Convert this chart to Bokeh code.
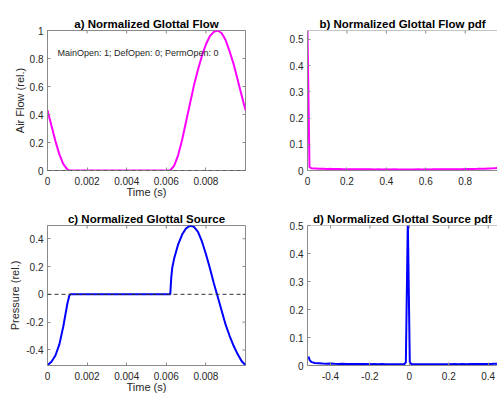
import math
from bokeh.plotting import figure
from bokeh.models import Range1d, FixedTicker, CustomJSTickFormatter, Label, Span
from bokeh.layouts import column, row
from bokeh.embed import file_html
from bokeh.resources import INLINE

# ---------------- data ----------------
# a) normalized glottal flow, time in ms
flow_t_ms = [0.0, 0.2, 0.4, 0.6, 0.8, 1.0, 1.1, 6.2, 6.4, 6.6, 6.8, 7.0, 7.2, 7.4, 7.6,
             7.8, 8.0, 8.2, 8.4, 8.6, 8.8, 9.0, 9.2, 9.4, 9.6, 9.8, 10.0]
flow_v = [0.43, 0.32, 0.21, 0.115, 0.045, 0.008, 0.0, 0.0, 0.035, 0.11, 0.22, 0.35, 0.48,
          0.61, 0.72, 0.82, 0.90, 0.96, 0.99, 1.0, 0.98, 0.93, 0.85, 0.76, 0.65, 0.54, 0.43]

# c) normalized glottal source, time in ms
src_t_ms = [0.0, 0.2, 0.4, 0.6, 0.8, 1.0, 1.1, 1.15, 6.2, 6.25, 6.3, 6.4, 6.6, 6.8, 7.0,
            7.2, 7.4, 7.6, 7.8, 8.0, 8.2, 8.4, 8.6, 8.8, 9.0, 9.2, 9.4, 9.6, 9.8, 10.0]
src_v = [-0.51, -0.485, -0.44, -0.36, -0.23, -0.07, -0.01, 0.0, 0.0, 0.12, 0.19, 0.26,
         0.36, 0.43, 0.475, 0.493, 0.485, 0.45, 0.38, 0.29, 0.19, 0.08, -0.02, -0.12,
         -0.22, -0.30, -0.37, -0.43, -0.48, -0.51]

# b) pdf of normalized glottal flow
pdf_flow_x = [0.0, 0.01, 0.02, 0.04, 0.06, 0.08, 0.10, 0.12, 0.14, 0.16, 0.18, 0.20,
              0.22, 0.24, 0.26, 0.28, 0.30, 0.32, 0.34, 0.36, 0.38, 0.40, 0.42, 0.44,
              0.46, 0.48, 0.50, 0.52, 0.54, 0.56, 0.58, 0.60, 0.62, 0.64, 0.66, 0.68,
              0.70, 0.72, 0.74, 0.76, 0.78, 0.80, 0.82, 0.84, 0.86, 0.88, 0.90, 0.92,
              0.94, 0.96, 0.98, 0.99, 1.0]
pdf_flow_v = [0.532, 0.012, 0.009, 0.008, 0.007, 0.0065, 0.006, 0.0062, 0.0055, 0.0058,
              0.005, 0.0052, 0.0048, 0.005, 0.0045, 0.0048, 0.0044, 0.0046, 0.0042,
              0.0045, 0.0041, 0.0044, 0.004, 0.0043, 0.004, 0.0042, 0.0038, 0.0042,
              0.004, 0.0043, 0.0041, 0.0044, 0.0042, 0.0045, 0.0043, 0.0047, 0.0045,
              0.0049, 0.0048, 0.0052, 0.005, 0.0055, 0.0054, 0.006, 0.0062, 0.0066,
              0.007, 0.0078, 0.0085, 0.0098, 0.013, 0.018, 0.06]

# d) pdf of normalized glottal source
pdf_src_x = [-0.512, -0.505, -0.495, -0.48, -0.46, -0.44, -0.42, -0.40, -0.38, -0.36,
             -0.34, -0.32, -0.30, -0.28, -0.26, -0.24, -0.22, -0.20, -0.18, -0.16,
             -0.14, -0.12, -0.10, -0.08, -0.06, -0.04, -0.025, -0.018, -0.008, 0.002,
             0.01, 0.03, 0.05, 0.07, 0.09, 0.11, 0.13, 0.15, 0.17, 0.19, 0.21, 0.23,
             0.25, 0.27, 0.29, 0.31, 0.33, 0.35, 0.37, 0.39, 0.41, 0.43, 0.45, 0.47,
             0.48, 0.49]
pdf_src_v = [0.032, 0.018, 0.012, 0.009, 0.008, 0.007, 0.0065, 0.0068, 0.006, 0.0058,
             0.0062, 0.0055, 0.0058, 0.0052, 0.0055, 0.005, 0.0053, 0.0049, 0.0052,
             0.0048, 0.005, 0.0047, 0.0049, 0.0046, 0.0048, 0.0045, 0.005, 0.012, 0.52,
             0.012, 0.005, 0.0045, 0.0042, 0.0046, 0.0043, 0.0047, 0.0044, 0.0048,
             0.0045, 0.0049, 0.0046, 0.005, 0.0047, 0.0051, 0.0049, 0.0053, 0.005,
             0.0055, 0.0053, 0.0057, 0.0056, 0.006, 0.006, 0.0075, 0.01, 0.03]

time_ticks = [0, 0.002, 0.004, 0.006, 0.008]
flow_yticks = [0, 0.2, 0.4, 0.6, 0.8, 1]
pdf_flow_xticks = [0, 0.2, 0.4, 0.6, 0.8, 1]
pdf_yticks = [0, 0.1, 0.2, 0.3, 0.4, 0.5]
src_ticks = [-0.4, -0.2, 0, 0.2, 0.4]

titles = ["a) Normalized Glottal Flow", "b) Normalized Glottal Flow pdf",
          "c) Normalized Glottal Source", "d) Normalized Glottal Source pdf"]
annot = "MainOpen: 1; DefOpen: 0; PermOpen: 0"

# ---------------- styling ----------------
FONT = "Liberation Sans"
TXT = "#262626"
AXC = "#8a8a8a"
MAG = "#ff00ff"
BLU = "#0000ff"

fmt = CustomJSTickFormatter(code="return String(tick);")


def make(title, w, h, bl, br, bt, bb, xr, yr, xticks, yticks, xlabel=None, ylabel=None,
         ylab_standoff=2, box=True):
    p = figure(width=w, height=h, min_border_left=bl, min_border_right=br,
               min_border_top=bt, min_border_bottom=bb, x_range=Range1d(*xr),
               y_range=Range1d(*yr), output_backend="svg", toolbar_location=None,
               tools="", background_fill_color="white", border_fill_color="white")
    p.title.text = title
    p.title.align = "center"
    p.title.text_font = FONT
    p.title.text_font_size = "11.5px"
    p.title.text_font_style = "bold"
    p.title.text_color = "black"
    p.title.standoff = 1
    p.title.offset = 0
    p.grid.visible = False
    p.outline_line_color = AXC if box else None
    p.outline_line_width = 1

    for ax, ticks in ((p.xaxis[0], xticks), (p.yaxis[0], yticks)):
        ax.ticker = FixedTicker(ticks=ticks)
        ax.formatter = fmt
        ax.major_tick_in = 3
        ax.major_tick_out = 0
        ax.minor_tick_line_color = None
        ax.major_tick_line_color = AXC
        ax.axis_line_color = AXC
        ax.major_label_text_font = FONT
        ax.major_label_text_font_size = "10px"
        ax.major_label_text_color = TXT
        ax.axis_label_text_font = FONT
        ax.axis_label_text_font_size = "11px"
        ax.axis_label_text_font_style = "normal"
        ax.axis_label_text_color = TXT
    p.xaxis[0].major_label_standoff = 6
    p.yaxis[0].major_label_standoff = 4
    p.xaxis[0].axis_label_standoff = -2
    p.yaxis[0].axis_label_standoff = ylab_standoff
    if xlabel:
        p.xaxis[0].axis_label = xlabel
    if ylabel:
        p.yaxis[0].axis_label = ylabel

    # inside ticks on the top edge (and right edge when the box is shown)
    p.scatter(xticks, [yr[1]] * len(xticks), marker="dash", angle=math.pi / 2, size=6,
              line_color=AXC, line_width=1)
    if box:
        p.scatter([xr[1]] * len(yticks), yticks, marker="dash", size=6,
                  line_color=AXC, line_width=1)
    else:
        p.add_layout(Span(location=yr[1], dimension="width", line_color=AXC, line_width=1))
    return p


flow_t = [t / 1000.0 for t in flow_t_ms]
src_t = [t / 1000.0 for t in src_t_ms]

pa = make(titles[0], 250, 200, 47, 5, 30, 29, (0, 0.01), (0, 1.0), time_ticks, flow_yticks,
          xlabel="Time (s)", ylabel="Air Flow (rel.)", ylab_standoff=1)
pa.add_layout(Span(location=0, dimension="width", line_color="#333333",
                   line_dash="4 3", line_width=1))
pa.line(flow_t, flow_v, line_color=MAG, line_width=2)
pa.add_layout(Label(x=0.0005, y=0.84, text=annot, text_font=FONT, text_font_size="9px",
                    text_color=TXT, text_baseline="middle"))

pb = make(titles[1], 247, 200, 57, 0, 30, 29, (0, 0.964), (0, 0.534), pdf_flow_xticks,
          pdf_yticks, box=False)
pb.line(pdf_flow_x, pdf_flow_v, line_color=MAG, line_width=2)

pc = make(titles[2], 250, 195, 47, 5, 25, 29, (0, 0.01), (-0.512, 0.495), time_ticks,
          src_ticks, xlabel="Time (s)", ylabel="Pressure (rel.)", ylab_standoff=2)
pc.add_layout(Span(location=0, dimension="width", line_color="#333333",
                   line_dash="4 3", line_width=1))
pc.line(src_t, src_v, line_color=BLU, line_width=2)

pd_ = make(titles[3], 247, 195, 57, 0, 25, 29, (-0.517, 0.447), (0, 0.5), src_ticks,
           pdf_yticks, box=False)
pd_.line(pdf_src_x, pdf_src_v, line_color=BLU, line_width=2)

layout = column(row(pa, pb), row(pc, pd_))
open("out.html", "w").write(file_html(layout, INLINE))
